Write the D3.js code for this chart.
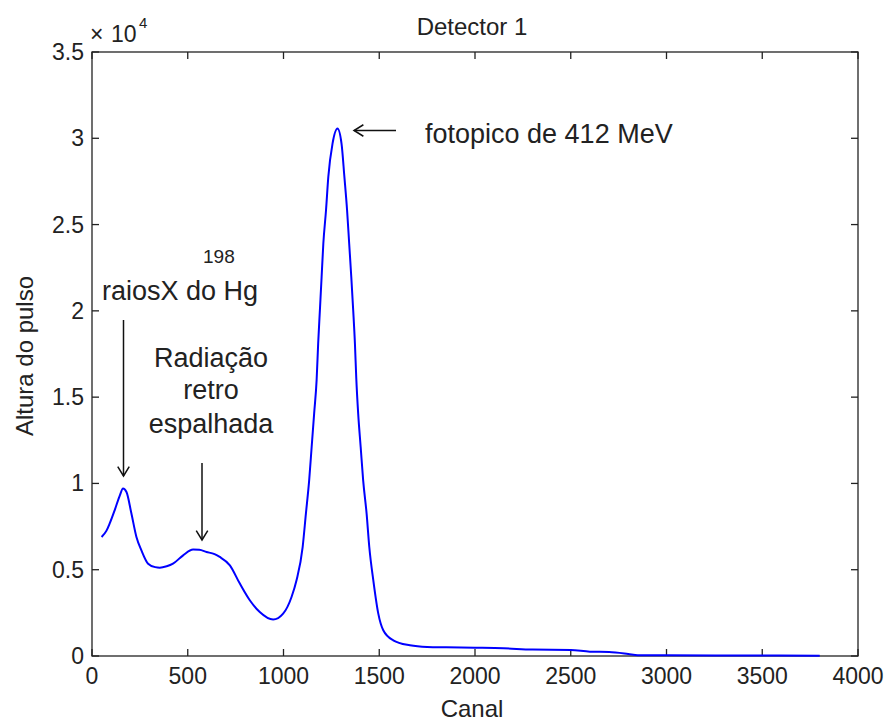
<!DOCTYPE html>
<html>
<head>
<meta charset="utf-8">
<script src="https://cdn.jsdelivr.net/npm/d3@7"></script>
<style>
  body { margin: 0; background: #fff; }
  text { font-family: "Liberation Sans", Arial, sans-serif; fill: #222; }
</style>
</head>
<body>
<svg width="890" height="724"></svg>
<script>
// spectrum (canal, altura do pulso)
const canal = [50, 75, 92, 120, 145, 162, 180, 205, 232, 258, 293, 330, 354, 390, 423,
  476, 528, 560, 598, 640, 667, 720, 772, 824, 876, 946, 998, 1042, 1068,
  1100, 1117, 1134, 1147, 1160, 1173, 1181, 1190, 1199, 1208, 1222, 1234, 1256,
  1282, 1303, 1318, 1332, 1343, 1354, 1364, 1373, 1380, 1390, 1403, 1416, 1434,
  1448, 1469, 1495, 1521, 1573, 1660, 1750, 1850, 2000, 2150, 2300,
  2500, 2600, 2700, 2800, 2850, 3000, 3500, 3800];
const altura = [6900, 7250, 7670, 8500, 9300, 9700, 9500, 8300, 6900, 6125, 5350, 5150, 5120, 5200, 5350,
  5835, 6165, 6150, 6030, 5900, 5740, 5255, 4195, 3230, 2550, 2110, 2450, 3420, 4385,
  6315, 8250, 10180, 12110, 14045, 16000, 18100, 20030, 21960, 23900, 25830, 27760, 29690,
  30560, 29690, 27760, 25830, 23900, 21960, 20030, 18100, 16100, 14045, 12110, 10180, 8250,
  6315, 4385, 2455, 1490, 910, 620, 520, 500, 480, 450, 370,
  350, 250, 230, 120, 50, 40, 30, 20];

const xTicks = [0, 500, 1000, 1500, 2000, 2500, 3000, 3500, 4000];
const yTicks = [0, 5000, 10000, 15000, 20000, 25000, 30000, 35000];
const yTickLabels = ['0', '0.5', '1', '1.5', '2', '2.5', '3', '3.5'];

const svg = d3.select('svg');
const pLeft = 92, pRight = 858, pTop = 52, pBottom = 656;

const x = d3.scaleLinear().domain([0, 4000]).range([pLeft, pRight]);
const y = d3.scaleLinear().domain([0, 35000]).range([pBottom, pTop]);

// ticks pointing inward on all four sides
const tk = 7;
const axes = svg.append('g').attr('stroke', '#222').attr('stroke-width', 1.3);
xTicks.forEach(t => {
  axes.append('line').attr('x1', x(t)).attr('x2', x(t)).attr('y1', pBottom).attr('y2', pBottom - tk);
  axes.append('line').attr('x1', x(t)).attr('x2', x(t)).attr('y1', pTop).attr('y2', pTop + tk);
});
yTicks.forEach(t => {
  axes.append('line').attr('x1', pLeft).attr('x2', pLeft + tk).attr('y1', y(t)).attr('y2', y(t));
  axes.append('line').attr('x1', pRight).attr('x2', pRight - tk).attr('y1', y(t)).attr('y2', y(t));
});
axes.append('rect').attr('x', pLeft).attr('y', pTop)
  .attr('width', pRight - pLeft).attr('height', pBottom - pTop).attr('fill', 'none');

svg.append('g').selectAll('text').data(xTicks).enter().append('text')
  .attr('x', d => x(d)).attr('y', 684).attr('text-anchor', 'middle')
  .attr('font-size', 23).text(d => d);
svg.append('g').selectAll('text').data(yTicks).enter().append('text')
  .attr('x', 84).attr('y', d => y(d) + 8).attr('text-anchor', 'end')
  .attr('font-size', 23).text((d, i) => yTickLabels[i]);

// x10^4 multiplier
svg.append('text').attr('x', 90).attr('y', 42).attr('font-size', 23).text('\u00d7');
svg.append('text').attr('x', 111).attr('y', 42).attr('font-size', 23).text('10');
svg.append('text').attr('x', 139).attr('y', 28).attr('font-size', 15).text('4');

// the spectrum
const pts = canal.map((c, i) => [c, altura[i]]);
svg.append('path').datum(pts)
  .attr('fill', 'none').attr('stroke', '#0000ff').attr('stroke-width', 2)
  .attr('d', d3.line().x(d => x(d[0])).y(d => y(d[1])).curve(d3.curveMonotoneX));

// titles
svg.append('text').attr('x', 472).attr('y', 35).attr('text-anchor', 'middle')
  .attr('font-size', 24).text('Detector 1');
svg.append('text').attr('x', 472).attr('y', 717).attr('text-anchor', 'middle')
  .attr('font-size', 24).text('Canal');
svg.append('text').attr('transform', 'translate(33,356) rotate(-90)')
  .attr('text-anchor', 'middle').attr('font-size', 24).text('Altura do pulso');

// annotations
const ann = svg.append('g');
ann.append('text').attr('x', 425).attr('y', 143).attr('font-size', 27).text('fotopico de 412 MeV');
ann.append('text').attr('x', 102).attr('y', 300).attr('font-size', 27).text('raiosX do Hg');
ann.append('text').attr('x', 203).attr('y', 263).attr('font-size', 19).text('198');
['Radiação', 'retro', 'espalhada'].forEach((s, i) => {
  ann.append('text').attr('x', 211).attr('y', [367, 399, 433][i])
    .attr('text-anchor', 'middle').attr('font-size', 27).text(s);
});

function arrow(x1, y1, x2, y2) {
  const g = ann.append('g').attr('stroke', '#111').attr('stroke-width', 1.5).attr('fill', 'none');
  g.append('line').attr('x1', x1).attr('y1', y1).attr('x2', x2).attr('y2', y2);
  const a = Math.atan2(y2 - y1, x2 - x1), L = 11, w = 0.55;
  g.append('polyline').attr('points', [
    [x2 - L * Math.cos(a - w), y2 - L * Math.sin(a - w)],
    [x2, y2],
    [x2 - L * Math.cos(a + w), y2 - L * Math.sin(a + w)]
  ].map(p => p.join(',')).join(' '));
}
arrow(396, 130.5, 354, 130.5);
arrow(123.5, 320, 123.5, 476);
arrow(202, 463, 202, 540);
</script>
</body>
</html>
